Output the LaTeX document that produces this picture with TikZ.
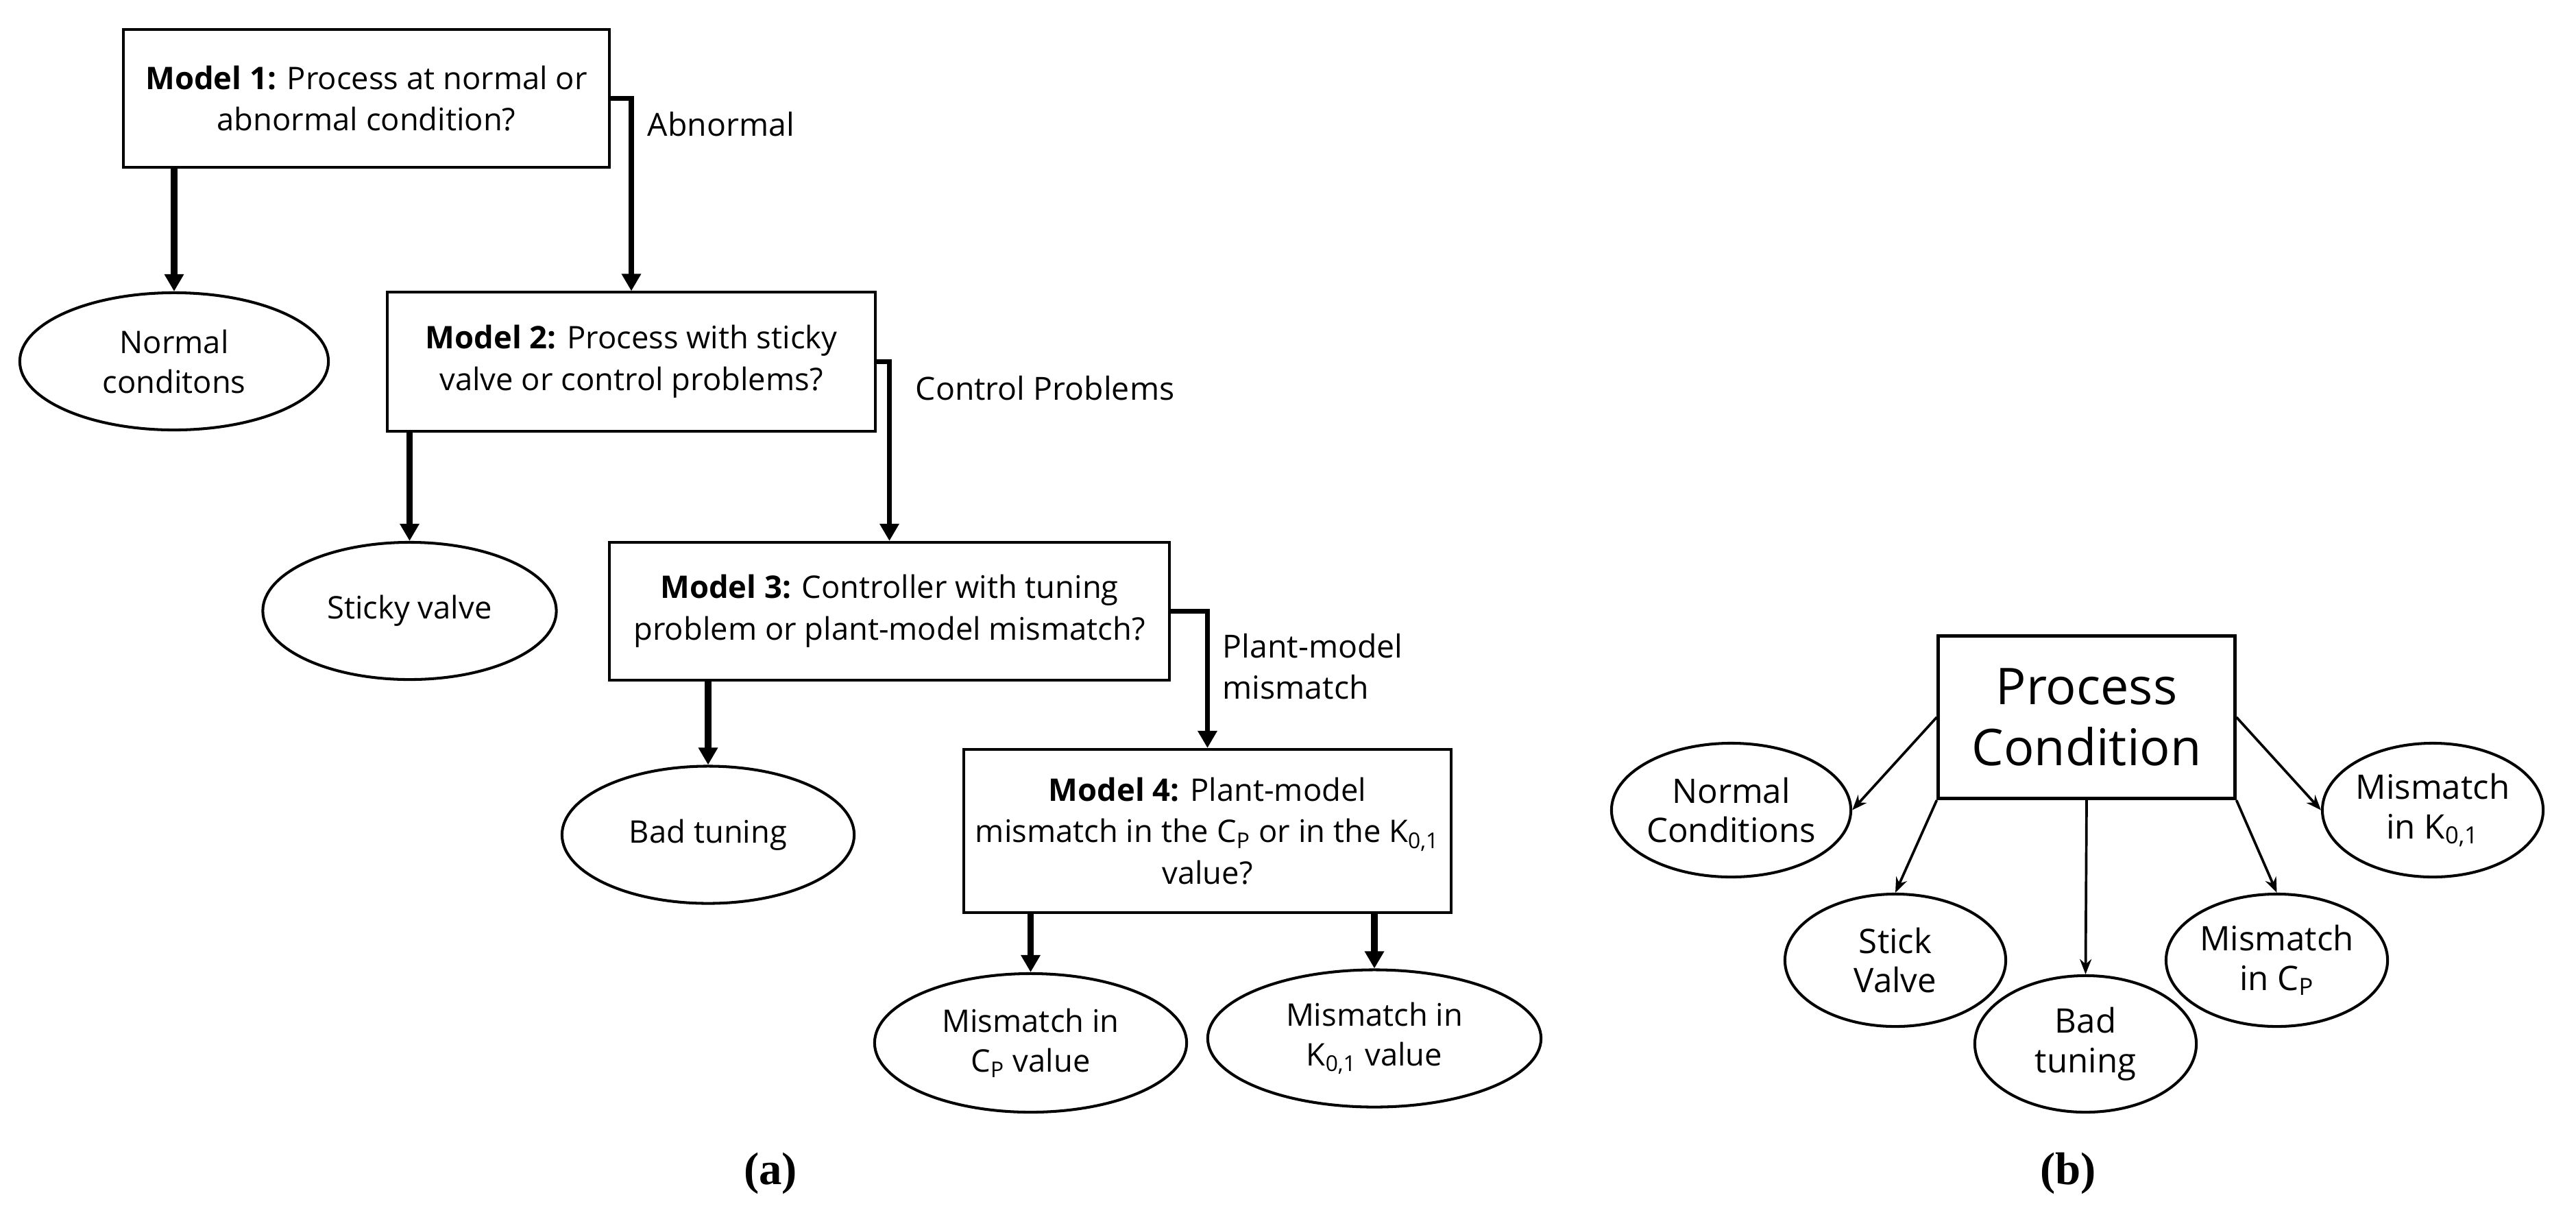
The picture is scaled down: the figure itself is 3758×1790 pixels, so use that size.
\documentclass[tikz,border=0pt]{standalone}
\usepackage{fontspec}
\setmainfont{Open Sans}
\newfontfamily\capfont{Liberation Serif}
\usetikzlibrary{arrows.meta,shapes.geometric}
\begin{document}
\begin{tikzpicture}[x=0.01cm,y=-0.01cm,
  qbox/.style={draw,line width=1.15pt,rectangle,align=center,inner sep=0pt,font=\fontsize{12.9}{17.3}\selectfont},
  oval/.style={draw,line width=1.15pt,ellipse,align=center,inner sep=0pt,font=\fontsize{12.9}{16.5}\selectfont},
  ovalb/.style={oval,font=\fontsize{14}{16.4}\selectfont},
  downarr/.style={line width=2.8pt,-{Triangle[length=0.25cm,width=0.27cm]}},
  elbow/.style={line width=2pt,-{Triangle[length=0.25cm,width=0.27cm]}},
  lbl/.style={anchor=west,align=left,inner sep=0pt,font=\fontsize{13.2}{17.3}\selectfont},
  thinarr/.style={line width=1.05pt,-{Stealth[length=0.22cm,width=0.17cm]}},
  bigbox/.style={draw,line width=1.4pt,rectangle,align=center,inner sep=0pt,font=\fontsize{21}{25.5}\selectfont},
  capstyle/.style={inner sep=0pt,font=\capfont\bfseries\fontsize{19}{23}\selectfont},
]
\useasboundingbox (0,0) rectangle (3758,1790);
% ---------- panel (a) ----------
\node[qbox,minimum width=7.09cm,minimum height=2.01cm] (m1) at (534.5,143.5)
  {\textbf{Model 1:} Process at normal or\\abnormal condition?};
\node[qbox,minimum width=7.11cm,minimum height=2.02cm] (m2) at (921,527.5)
  {\textbf{Model 2:} Process with sticky\\valve or control problems?};
\node[qbox,minimum width=8.17cm,minimum height=2.01cm] (m3) at (1297.5,891.5)
  {\textbf{Model 3:} Controller with tuning\\problem or plant-model mismatch?};
\node[qbox,minimum width=7.11cm,minimum height=2.38cm] (m4) at (1761.5,1212)
  {\textbf{Model 4:} Plant-model\\mismatch in the C\textsubscript{P} or in the K\textsubscript{0,1}\\value?};
\node[oval,minimum width=4.5cm,minimum height=2cm] (normal) at (254,527) {Normal\\conditons};
\node[oval,minimum width=4.28cm,minimum height=2cm] (sticky) at (597.5,891) {Sticky valve};
\node[oval,minimum width=4.26cm,minimum height=2cm] (badt) at (1033,1217.5) {Bad tuning};
\node[oval,minimum width=4.55cm,minimum height=2.02cm] (mcp) at (1503.5,1521) {Mismatch in\\C\textsubscript{P} value};
\node[oval,minimum width=4.86cm,minimum height=2cm] (mk) at (2005,1514.5) {Mismatch in\\K\textsubscript{0,1} value};
\node[lbl] (labn) at (944,181) {Abnormal};
\node[lbl] (lctl) at (1335,566) {Control Problems};
\node[lbl] (lpm) at (1783,972) {Plant-model\\mismatch};
\draw[elbow] (m1.east) -| (m2.north);
\draw[elbow] (m2.east) -| (m3.north);
\draw[elbow] (m3.east) -| (m4.north);
\draw[downarr] (m1.south -| normal.north) -- (normal.north);
\draw[downarr] (m2.south -| sticky.north) -- (sticky.north);
\draw[downarr] (m3.south -| badt.north) -- (badt.north);
\draw[downarr] (m4.south -| mcp.north) -- (mcp.north);
\draw[downarr] (m4.south -| mk.north) -- (mk.north);
\node[capstyle] (capa) at (1124,1711) {(a)};
% ---------- panel (b) ----------
\node[bigbox,minimum width=4.32cm,minimum height=2.37cm] (pc) at (3044,1046) {Process\\Condition};
\node[ovalb,minimum width=3.49cm,minimum height=1.95cm] (nc) at (2525.5,1181.5) {Normal\\Conditions};
\node[ovalb,minimum width=3.22cm,minimum height=1.93cm] (sv) at (2765,1400.5) {Stick\\Valve};
\node[ovalb,minimum width=3.23cm,minimum height=1.99cm] (bt) at (3042.5,1522.5) {Bad\\tuning};
\node[ovalb,minimum width=3.23cm,minimum height=1.93cm] (mc) at (3321.5,1400.5) {Mismatch\\in C\textsubscript{P}};
\node[ovalb,minimum width=3.22cm,minimum height=1.95cm] (mkb) at (3549,1181.5) {Mismatch\\in K\textsubscript{0,1}};
\draw[thinarr] (pc.west) -- (nc.east);
\draw[thinarr] (pc.south west) -- (sv.north);
\draw[thinarr] (pc.south) -- (bt.north);
\draw[thinarr] (pc.south east) -- (mc.north);
\draw[thinarr] (pc.east) -- (mkb.west);
\node[capstyle] (capb) at (3017,1711) {(b)};
\end{tikzpicture}
\end{document}
